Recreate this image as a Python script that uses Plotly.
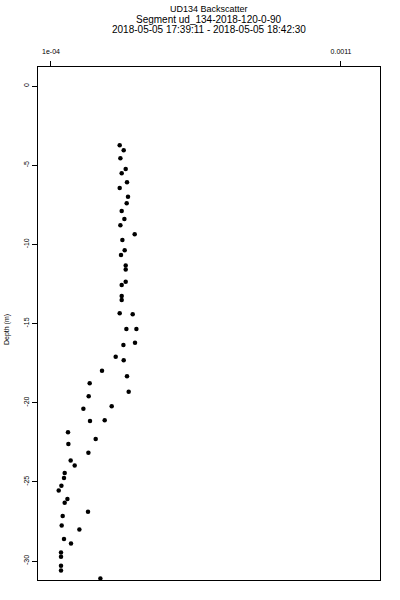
import plotly.graph_objects as go

# Backscatter values (x) and depth in metres (y)
backscatter = [
    3.369e-4, 3.507e-4, 3.393e-4, 3.576e-4, 3.438e-4, 3.621e-4, 3.369e-4, 3.655e-4,
    3.610e-4, 3.438e-4, 3.531e-4, 3.393e-4, 3.886e-4, 3.462e-4, 3.541e-4, 3.414e-4,
    3.576e-4, 3.576e-4, 3.576e-4, 3.438e-4, 3.438e-4, 3.438e-4, 3.369e-4, 3.817e-4,
    3.600e-4, 3.945e-4, 3.497e-4, 3.897e-4, 3.231e-4, 3.507e-4, 2.759e-4, 3.621e-4,
    2.334e-4, 3.679e-4, 2.300e-4, 2.117e-4, 3.093e-4, 2.345e-4, 2.852e-4, 1.586e-4,
    2.541e-4, 1.600e-4, 2.290e-4, 1.679e-4, 1.817e-4, 1.472e-4, 1.448e-4, 1.359e-4,
    1.266e-4, 1.566e-4, 1.472e-4, 2.276e-4, 1.403e-4, 1.369e-4, 1.979e-4, 1.448e-4,
    1.690e-4, 1.345e-4, 1.345e-4, 1.345e-4, 1.345e-4, 2.703e-4,
]
depth = [
    -3.746, -4.062, -4.567, -5.243, -5.515, -6.083, -6.443, -6.993,
    -7.410, -7.896, -8.402, -8.800, -9.368, -9.728, -10.379, -10.676,
    -11.339, -11.592, -12.363, -12.571, -13.266, -13.519, -14.359, -14.422,
    -15.351, -15.351, -16.361, -16.216, -17.101, -17.328, -17.985, -18.339,
    -18.781, -19.311, -19.602, -20.385, -20.234, -21.162, -21.118, -21.876,
    -22.300, -22.615, -23.165, -23.645, -23.961, -24.447, -24.763, -25.249,
    -25.540, -26.090, -26.324, -26.892, -27.164, -27.751, -28.004, -28.617,
    -28.888, -29.457, -29.735, -30.303, -30.594, -31.099,
]

x_tick_vals = [1e-4, 0.0011]
x_tick_text = ["1e-04", "0.0011"]
y_tick_vals = [0, -5, -10, -15, -20, -25, -30]
y_tick_text = ["0", "-5", "-10", "-15", "-20", "-25", "-30"]

title_lines = [
    "UD134 Backscatter",
    "Segment ud_134-2018-120-0-90",
    "2018-05-05 17:39:11 - 2018-05-05 18:42:30",
]
title_sizes = [9, 10, 10]
y_title = "Depth (m)"

FONT = "Liberation Sans, Arial, Helvetica, sans-serif"

fig = go.Figure()
fig.add_trace(go.Scatter(
    x=backscatter, y=depth, mode="markers",
    marker=dict(color="black", size=4.5, symbol="circle"),
    showlegend=False, cliponaxis=False,
))

L, R, T, B = 38, 20, 67, 20
W, H = 400, 600
pw, ph = W - L - R, H - T - B

fig.update_layout(
    width=W, height=H,
    margin=dict(l=L, r=R, t=T, b=B, autoexpand=False),
    paper_bgcolor="white", plot_bgcolor="white",
    font=dict(family=FONT, color="black", size=7),
    xaxis=dict(
        side="top", range=[5.52e-5, 0.0012345],
        tickvals=x_tick_vals, ticktext=x_tick_text,
        ticks="outside", ticklen=5, tickwidth=1, tickcolor="black",
        ticklabelstandoff=4,
        showline=True, linecolor="black", linewidth=1, mirror=True,
        showgrid=False, zeroline=False,
        tickfont=dict(size=7, family=FONT, color="black"),
        automargin=False,
    ),
    yaxis=dict(
        range=[-31.2, 1.2],
        tickvals=y_tick_vals, ticktext=y_tick_text,
        ticks="outside", ticklen=5, tickwidth=1, tickcolor="black",
        tickangle=-90,
        showline=True, linecolor="black", linewidth=1, mirror=True,
        showgrid=False, zeroline=False,
        tickfont=dict(size=7, family=FONT, color="black"),
        automargin=False,
    ),
)

plot_cx = (L + (W - R)) / 2
title_centres = [8.7, 19.2, 29.9]
for i, line in enumerate(title_lines):
    py = title_centres[i]
    fig.add_annotation(
        text=line, xref="paper", yref="paper",
        x=(plot_cx - L) / pw, y=1 + (T - py) / ph,
        xanchor="center", yanchor="middle", showarrow=False,
        font=dict(size=title_sizes[i], family=FONT, color="black"),
    )

fig.add_annotation(
    text=y_title, xref="paper", yref="paper",
    x=(7 - L) / pw, y=(H - B - 330) / ph,
    xanchor="center", yanchor="middle", showarrow=False, textangle=-90,
    font=dict(size=7, family=FONT, color="black"),
)

fig.write_html(
    "out.html",
    config={"displayModeBar": False},
    post_script="document.body.style.margin='0';document.body.style.padding='0';",
)
